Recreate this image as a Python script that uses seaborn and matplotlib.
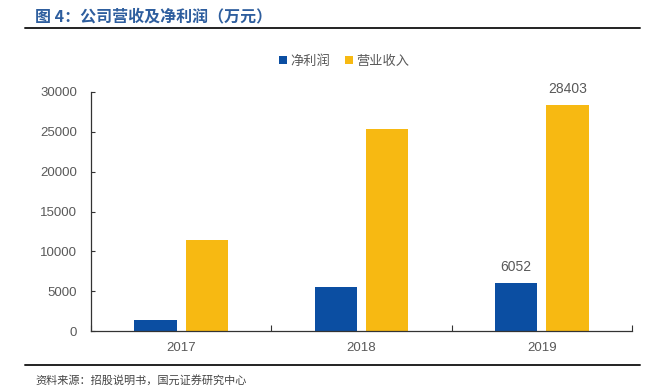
import matplotlib
matplotlib.use("Agg")
import matplotlib.pyplot as plt
import seaborn as sns
import pandas as pd
from matplotlib.lines import Line2D

years = ["2017", "2018", "2019"]
net_profit = [1380, 5490, 6052]
revenue = [11400, 25400, 28403]
series_names = ["净利润", "营业收入"]
yticks = [0, 5000, 10000, 15000, 20000, 25000, 30000]
title = "图 4：公司营收及净利润（万元）"
source = "资料来源：招股说明书，国元证券研究中心"

sns.set_theme(style="white")
plt.rcParams['font.family'] = ['Liberation Sans', 'Noto Sans CJK SC', 'DejaVu Sans']

df = pd.DataFrame({
    "year": years * 2,
    "value": net_profit + revenue,
    "series": [series_names[0]] * 3 + [series_names[1]] * 3,
})

colors = ["#0B4EA2", "#F7B912"]
grey = "#595959"
cjk = ['Noto Sans CJK SC', 'DejaVu Sans']

fig = plt.figure(figsize=(6.58, 3.91), dpi=100)
ax = fig.add_axes([91 / 658, 1 - 331 / 391, (632 - 91) / 658, (331 - 92) / 391])

sns.barplot(data=df, x="year", y="value", hue="series", palette=colors,
            saturation=1, width=0.57, gap=0.18, linewidth=0, ax=ax, legend=False)

ax.set_xlim(-0.5, 2.5)
ax.set_ylim(0, 30000)
ax.set_yticks(yticks)
ax.set_yticklabels([str(v) for v in yticks])
ax.set_xlabel("")
ax.set_ylabel("")

for s in ["top", "right"]:
    ax.spines[s].set_visible(False)
for s in ["left", "bottom"]:
    ax.spines[s].set_color("#333333")
    ax.spines[s].set_linewidth(0.9)

ax.tick_params(axis="y", direction="in", length=3, width=0.8, color="#333333",
               labelsize=9.5, labelcolor=grey, pad=10, left=True)
ax.tick_params(axis="x", which="major", length=0, labelsize=9.5, labelcolor=grey, pad=8)
ax.set_xticks([-0.5, 0.5, 1.5, 2.5], minor=True)
ax.tick_params(axis="x", which="minor", direction="in", length=4, width=0.8,
               color="#333333", bottom=True)

# data labels only on last year
for container, vals in zip(ax.containers, [net_profit, revenue]):
    labels = ["" for _ in vals[:-1]] + [str(vals[-1])]
    ax.bar_label(container, labels=labels, padding=6, fontsize=10, color=grey)

# legend
handles = [Line2D([0], [0], marker="s", linestyle="", markersize=6,
                  markerfacecolor=c, markeredgewidth=0) for c in colors]
leg = fig.legend(handles, series_names, loc="center", bbox_to_anchor=(343 / 658, 1 - 61 / 391),
                 ncol=2, frameon=False, prop={"family": cjk, "size": 9.5}, labelcolor=grey,
                 handletextpad=0.05, columnspacing=0.9, handlelength=1.0)

# title and decorative lines
fig.text(35 / 658, 1 - 16 / 391, title, fontsize=11.5, fontweight="bold",
         color="#2E5E9E", va="center", ha="left", family=cjk)
fig.add_artist(Line2D([25 / 658, 640 / 658], [1 - 28 / 391, 1 - 28 / 391],
                      color="#222222", linewidth=1.4))
fig.add_artist(Line2D([25 / 658, 640 / 658], [1 - 365 / 391, 1 - 365 / 391],
                      color="#222222", linewidth=1.4))
fig.text(35 / 658, 1 - 380 / 391, source, fontsize=8, color="#444444",
         va="center", ha="left", family=cjk)

fig.savefig("out.png", dpi=100)
